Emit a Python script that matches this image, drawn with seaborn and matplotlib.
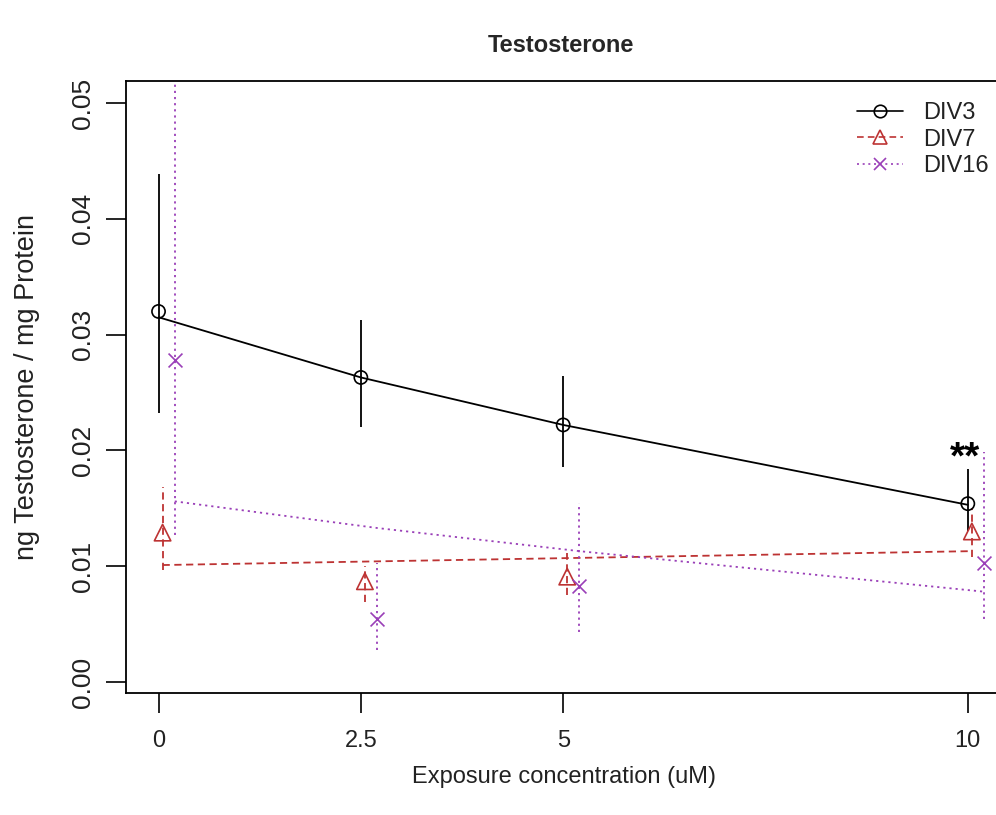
import matplotlib
matplotlib.use("Agg")
import matplotlib.pyplot as plt
from matplotlib.lines import Line2D
import seaborn as sns
import pandas as pd

# Exposure concentrations (uM)
conc = [0, 2.5, 5, 10]

# DIV3: group means, error bar limits, fitted values
div3_mean = [0.0320, 0.0263, 0.0222, 0.0154]
div3_lo = [0.0232, 0.0220, 0.0186, 0.0130]
div3_hi = [0.0439, 0.0313, 0.0264, 0.0184]
div3_fit = [0.0315, 0.0263, 0.0222, 0.0153]

# DIV7
div7_mean = [0.0129, 0.0087, 0.0091, 0.0130]
div7_lo = [0.0097, 0.0069, 0.0075, 0.0108]
div7_hi = [0.0168, 0.0100, 0.0111, 0.0150]
div7_fit = [0.0101, 0.0104, 0.0107, 0.0113]

# DIV16
div16_mean = [0.0278, 0.0054, 0.0083, 0.0103]
div16_lo = [0.0127, 0.0028, 0.0043, 0.0054]
div16_hi = [0.0600, 0.0103, 0.0155, 0.0199]
div16_fit = [0.0156, 0.0133, 0.0113, 0.0078]

groups = ["DIV3", "DIV7", "DIV16"]
x_ticks = [0, 2.5, 5, 10]
x_tick_labels = ["0", "2.5", "5", "10"]
y_ticks = [0.00, 0.01, 0.02, 0.03, 0.04, 0.05]
y_tick_labels = ["0.00", "0.01", "0.02", "0.03", "0.04", "0.05"]

sns.set_style("ticks")
plt.rcParams["font.family"] = ["Liberation Sans", "DejaVu Sans"]

styles = {
    "DIV3": dict(color="black", ls="-", marker="o", dx=0.0, s=90),
    "DIV7": dict(color="#BD3333", ls=(0, (4, 2.5)), marker="^", dx=0.05, s=140),
    "DIV16": dict(color="#9A3FB8", ls=(0, (1.2, 2.2)), marker="x", dx=0.2, s=100),
}
series = {
    "DIV3": (div3_mean, div3_lo, div3_hi, div3_fit),
    "DIV7": (div7_mean, div7_lo, div7_hi, div7_fit),
    "DIV16": (div16_mean, div16_lo, div16_hi, div16_fit),
}

rows = []
for g in groups:
    m, lo, hi, fit = series[g]
    for c, mv, l, h, f in zip(conc, m, lo, hi, fit):
        rows.append(dict(group=g, x=c + styles[g]["dx"], mean=mv, lo=l, hi=h, fit=f))
df = pd.DataFrame(rows)

W, H = 996, 815
fig = plt.figure(figsize=(W / 100, H / 100), dpi=100)
ax = fig.add_axes([126 / W, 1 - 693 / H, (1001 - 126) / W, (693 - 81) / H])

lw = 1.3
for g in groups:
    st = styles[g]
    d = df[df.group == g]
    # fitted trend line
    sns.lineplot(data=d, x="x", y="fit", ax=ax, color=st["color"], lw=lw,
                 linestyle=st["ls"], legend=False, sort=True)
    # error bars
    ax.vlines(d["x"], d["lo"], d["hi"], colors=st["color"], lw=lw,
              linestyles=[st["ls"]])
    # group means
    if st["marker"] == "x":
        sns.scatterplot(data=d, x="x", y="mean", ax=ax, marker="x", s=st["s"],
                        color=st["color"], linewidth=1.2, legend=False, zorder=4)
    else:
        sns.scatterplot(data=d, x="x", y="mean", ax=ax, marker=st["marker"], s=st["s"],
                        facecolor="none", edgecolor=st["color"], linewidth=1.2,
                        legend=False, zorder=4)

ax.text(9.97, 0.0193, "**", ha="center", va="center", fontsize=28,
        fontweight="bold", color="black")

ax.set_xlim(-0.402, 10.41)
ax.set_ylim(-0.00095, 0.0519)
ax.set_xticks(x_ticks)
ax.set_xticklabels(x_tick_labels)
ax.set_yticks(y_ticks)
ax.set_yticklabels(y_tick_labels, rotation=90, va="center")
ax.tick_params(axis="both", length=14.5, width=1.2, color="black",
               labelcolor="#222222")
ax.tick_params(axis="x", pad=12, labelsize=17)
ax.tick_params(axis="y", pad=8, labelsize=19)

for side in ["left", "top", "bottom"]:
    ax.spines[side].set_visible(True)
    ax.spines[side].set_linewidth(1.3)
    ax.spines[side].set_color("black")
ax.spines["right"].set_visible(False)

ax.set_xlabel("Exposure concentration (uM)", fontsize=17, color="#222222", labelpad=10)
ax.set_ylabel("ng Testosterone / mg Protein", fontsize=19.5, color="#222222", labelpad=22)
fig.text(561 / W, 1 - 45 / H, "Testosterone", ha="center", va="center",
         fontsize=17, fontweight="bold")

handles = []
for g in groups:
    st = styles[g]
    ms = 10 if st["marker"] == "^" else 9
    if st["marker"] == "x":
        h = Line2D([], [], color=st["color"], ls=st["ls"], lw=1.2, marker="x",
                   markersize=ms, markeredgewidth=1.2)
    else:
        h = Line2D([], [], color=st["color"], ls=st["ls"], lw=1.2, marker=st["marker"],
                   markersize=ms, markerfacecolor="none", markeredgecolor=st["color"],
                   markeredgewidth=1.2)
    handles.append(h)
leg = fig.legend(handles, groups, loc="upper left", bbox_to_anchor=(857 / W, 1 - 102 / H),
                 frameon=False, fontsize=17, handlelength=1.95, handletextpad=0.85,
                 labelspacing=0.2, borderpad=0, borderaxespad=0)
for t in leg.get_texts():
    t.set_color("#222222")

fig.savefig("out.png", dpi=100)
